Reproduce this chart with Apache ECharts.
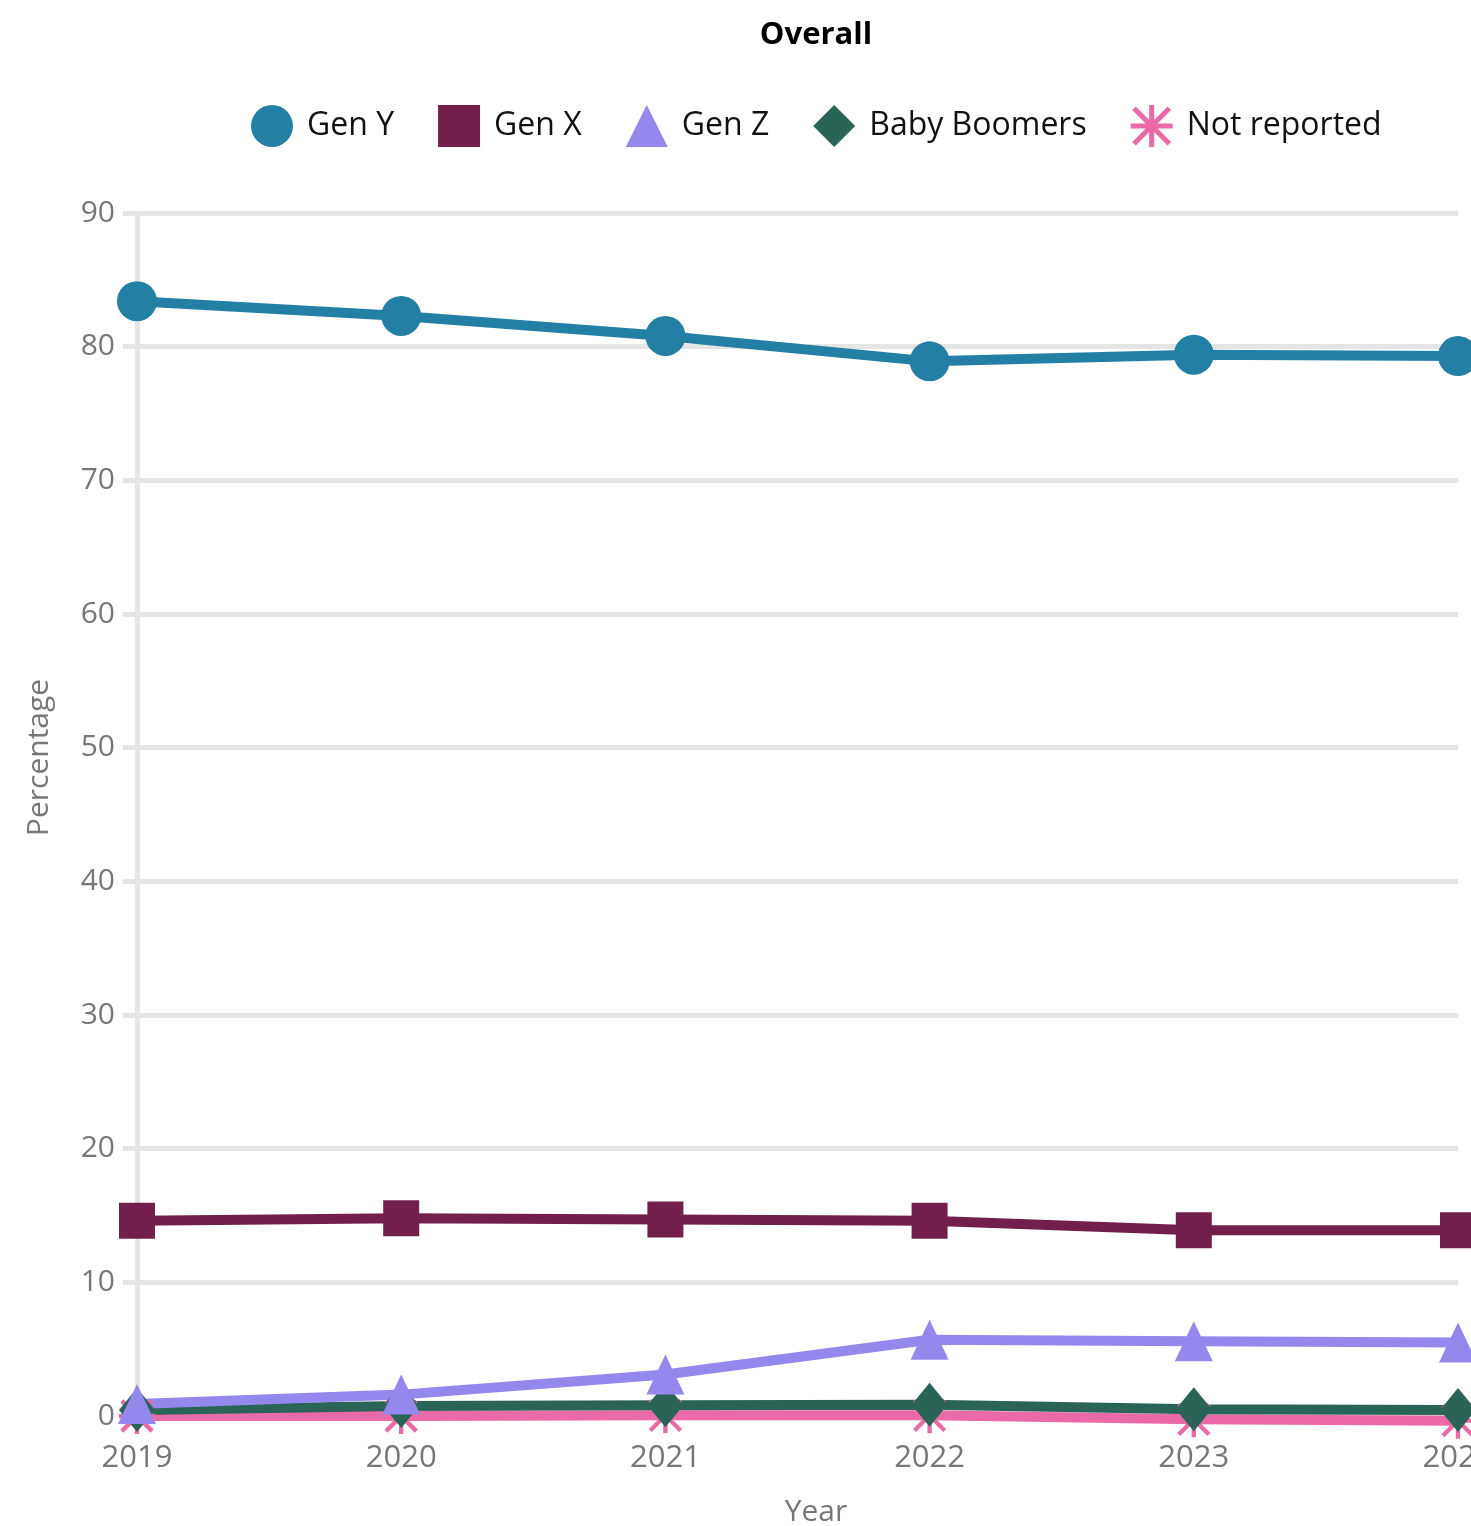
<!DOCTYPE html>
<html>
<head>
<meta charset="utf-8">
<script src="https://cdn.jsdelivr.net/npm/echarts@6/dist/echarts.min.js"></script>
<style>
  html, body { margin: 0; padding: 0; background: #ffffff; }
  #chart { width: 1471px; height: 1526px; }
</style>
</head>
<body>
<div id="chart"></div>
<script>
// Share of respondents by generation, per survey year
const years = ['2019', '2020', '2021', '2022', '2023', '2024'];
const genY = [83.4, 82.3, 80.8, 78.9, 79.4, 79.3];
const genX = [14.6, 14.8, 14.7, 14.6, 13.9, 13.9];
const genZ = [0.9, 1.6, 3.1, 5.7, 5.6, 5.5];
const babyBoomers = [0.45, 0.75, 0.8, 0.85, 0.5, 0.45];
const notReported = [0.0, 0.0, 0.05, 0.05, -0.25, -0.35];
const yTicks = { min: 0, max: 90, step: 10 };

const FONT = '"Open Sans", "Noto Sans", sans-serif';
const GRID_GREY = '#e5e5e5';
const TEXT_GREY = '#777777';

// Eight-spoke asterisk used for the "Not reported" markers
const asterisk = 'path://M44 0L56 0L56 100L44 100Z' +
  'M0 44L100 44L100 56L0 56Z' +
  'M12.2 3.8L96.2 87.8L87.8 96.2L3.8 12.2Z' +
  'M87.8 3.8L96.2 12.2L12.2 96.2L3.8 87.8Z';

const styles = {
  'Gen Y':        { color: '#237fa4', symbol: 'circle',   size: 40 },
  'Gen X':        { color: '#72204b', symbol: 'rect',     size: 36 },
  'Gen Z':        { color: '#9488ec', symbol: 'triangle', size: [38, 40] },
  'Baby Boomers': { color: '#2a6456', symbol: 'diamond',  size: [36, 44] },
  'Not reported': { color: '#e96aa7', symbol: asterisk,   size: 36 }
};

function lineSeries(name, values) {
  const s = styles[name];
  return {
    name: name,
    type: 'line',
    data: values,
    symbol: s.symbol,
    symbolSize: s.size,
    showAllSymbol: true,
    clip: false,
    color: s.color,
    lineStyle: { width: 10, color: s.color },
    itemStyle: { color: s.color, opacity: 1 },
    emphasis: { disabled: true }
  };
}

const legendOrder = ['Gen Y', 'Gen X', 'Gen Z', 'Baby Boomers', 'Not reported'];

const chart = echarts.init(document.getElementById('chart'), null, { renderer: 'canvas' });
chart.setOption({
  animation: false,
  backgroundColor: '#ffffff',
  title: {
    text: 'Overall',
    left: 811,
    top: 15,
    textAlign: 'center',
    textStyle: { fontFamily: FONT, fontSize: 31, fontWeight: 'bold', color: '#000000' }
  },
  legend: {
    left: 246,
    top: 100,
    itemWidth: 42,
    itemHeight: 42,
    itemGap: 44,
    data: legendOrder.map(n => ({
      name: n,
      icon: styles[n].symbol,
      itemStyle: { color: styles[n].color }
    })),
    textStyle: { fontFamily: FONT, fontSize: 32, color: '#111111', padding: [0, 0, 0, 9] }
  },
  grid: { left: 137, right: 13, top: 213, bottom: 110, containLabel: false, outerBoundsMode: 'none' },
  xAxis: {
    type: 'category',
    data: years,
    boundaryGap: false,
    name: 'Year',
    nameLocation: 'middle',
    nameGap: 81,
    nameTextStyle: { fontFamily: FONT, fontSize: 30, color: TEXT_GREY, padding: [0, 0, 0, 37] },
    axisLine: { show: false },
    axisTick: { show: false },
    axisLabel: { fontFamily: FONT, fontSize: 31, color: TEXT_GREY, margin: 27 },
    splitLine: { show: false }
  },
  yAxis: {
    type: 'value',
    min: yTicks.min,
    max: yTicks.max,
    interval: yTicks.step,
    name: 'Percentage',
    nameLocation: 'middle',
    nameGap: 83,
    nameTextStyle: { fontFamily: FONT, fontSize: 30, color: TEXT_GREY, padding: [0, 0, 0, 114] },
    axisLine: { show: true, lineStyle: { color: GRID_GREY, width: 5 } },
    axisTick: { show: true, length: 14, lineStyle: { color: GRID_GREY, width: 5 } },
    axisLabel: { fontFamily: FONT, fontSize: 30, color: TEXT_GREY, margin: 22 },
    splitLine: { show: true, lineStyle: { color: GRID_GREY, width: 5 } }
  },
  // drawn bottom-up so Gen Z sits over the Baby Boomers line, which sits over Not reported
  series: [
    lineSeries('Not reported', notReported),
    lineSeries('Baby Boomers', babyBoomers),
    lineSeries('Gen Z', genZ),
    lineSeries('Gen X', genX),
    lineSeries('Gen Y', genY)
  ]
});
</script>
</body>
</html>
